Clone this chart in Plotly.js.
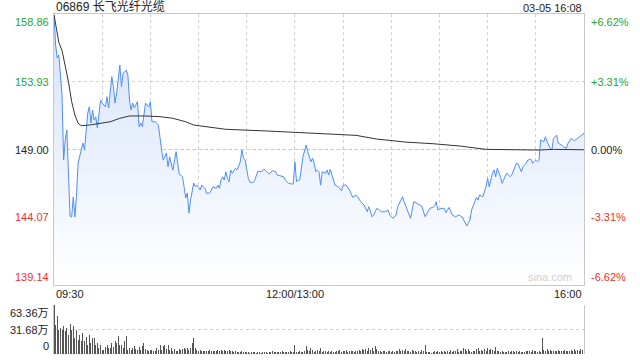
<!DOCTYPE html>
<html><head><meta charset="utf-8">
<script src="https://cdn.plot.ly/plotly-3.0.1.min.js"></script>
<style>html,body{margin:0;padding:0;background:#fff}#chart{width:640px;height:360px}</style>
</head><body><div id="chart"></div>
<script>
// ---- data ----
const titleText = '06869 长飞光纤光缆';
const stampText = '03-05 16:08';
const prevClose = 149.00;
const priceTicks = [158.86, 153.93, 149.00, 144.07, 139.14];
const pctLabels = ['+6.62%', '+3.31%', '0.00%', '-3.31%', '-6.62%'];
const timeLabels = ['09:30', '12:00/13:00', '16:00'];
const timeLabelMinutes = [0, 150, 330];
const gridMinutes = [0,30,60,90,120,150,180,210,240,270,300,330];
const volTicks = [0, 31.68, 63.36];
const volLabels = ['0', '31.68万', '63.36万'];

const priceMin = [0,1,2,3,4,5,6,7,8,9,10,11,12,13,14,15,17,18,19,20,21,22,23,24,25,26,27,29,30,32,33,34,36,37,38,39,41,42,43,45,46,47,48,49,50,52,53,54,55,57,59,60,61,63,65,67,68,70,71,72,74,76,77,78,79,80,81,82,83,84,85,86,87,88,89,90,91,92,94,95,97,98,99,101,102,103,104,105,106,107,108,109,110,111,112,113,114,115,116,117,118,119,120,121,122,124,125,126,127,129,131,133,134,136,138,139,141,143,144,146,148,149,150,151,152,153,155,157,158,159,160,161,162,163,164,165,166,167,169,170,171,172,174,175,177,179,180,182,184,186,188,189,191,193,195,196,198,199,201,204,206,208,209,211,213,214,216,217,218,220,222,224,226,228,229,231,233,234,236,237,238,239,241,243,244,246,248,250,252,254,256,257,259,260,262,263,264,265,267,269,270,271,273,274,275,276,278,279,281,282,284,285,287,288,289,291,292,294,295,297,298,300,301,302,303,305,306,307,309,310,311,313,314,316,317,319,320,322,324,326,328,330];
const priceVal = [158.80,156.60,155.66,155.88,154.42,152.96,148.23,149.69,150.42,147.2,144.16,144.09,145.54,144.09,145.6,148.02,148.96,149.47,148.96,150.66,151.65,152.11,150.93,151.87,151.14,151.38,150.56,152.60,152.38,152.11,152.84,152.02,154.30,153.57,152.38,153.11,155.15,153.57,154.54,154.78,154.42,152.60,151.87,152.38,152.02,152.48,150.66,150.93,150.66,152.38,152.11,152.48,151.02,151.02,150.78,148.96,148.23,148.74,147.74,148.47,147.50,148.84,148.02,147.2,147.14,147.02,146.29,145.47,145.83,144.37,145.32,146.05,146.56,146.29,146.41,146.25,146.05,146.41,146.17,145.81,145.85,146.05,146.29,146.17,146.41,146.17,146.78,147.02,146.78,147.38,146.90,146.66,147.51,147.27,147.51,147.63,147.51,147.87,148.11,148.96,148.36,148.23,147.38,146.90,146.61,146.61,146.78,147.14,147.43,147.38,147.56,147.31,147.22,147.46,147.38,147.14,147.07,147.02,146.78,146.54,146.49,146.5,148.11,146.66,146.78,146.78,148.47,149.33,148.84,148.47,148.11,148.36,147.99,147.38,147.51,147.38,146.41,147.38,147.27,147.51,147.14,147.56,146.78,146.41,146.29,146.00,146.41,146.41,146.05,145.52,145.69,145.56,145.20,144.96,144.47,144.84,144.11,144.23,144.72,144.47,144.47,144.60,144.23,143.99,144.23,144.84,145.32,145.56,145.20,144.60,143.99,145.20,145.08,145.01,144.89,144.11,144.60,144.72,144.80,144.89,145.20,144.60,144.72,144.72,144.40,144.79,144.23,144.11,144.23,144.11,143.67,143.43,143.87,144.60,145.20,145.52,145.32,145.69,145.56,146.29,146.90,146.29,147.27,147.51,147.02,147.63,147.02,146.54,147.07,147.27,147.02,147.14,147.75,148.00,147.95,147.38,147.75,148.00,148.23,148.29,148.00,148.23,148.11,148.23,149.69,149.57,149.93,149.57,149.09,148.96,149.81,150.05,149.45,149.33,149.20,149.09,149.45,149.81,149.64,149.81,149.98,150.18];

const avgMin = [0,3,5,7,9,11,13,15,17,22,28,35,41,47,57,66,74,82,87,95,107,132,153,174,188,201,219,236,253,269,286,302,311,330];
const avgVal = [158.8,156.8,156.2,155.15,153.93,152.48,151.51,150.91,150.73,150.78,150.91,151.02,151.27,151.44,151.44,151.39,151.27,151.02,150.78,150.66,150.47,150.35,150.25,150.15,150.03,149.76,149.54,149.42,149.25,149.01,148.96,148.96,149.01,148.98];

// volume per minute (万股), minute 0..330
const volume = [
63.4,37.9,48.6,31.4,33.6,31.4,35.7,29.2,33.6,25,
38.8,31.4,35.7,20.7,31.4,18.5,25,16.3,27.2,16.3,
21.5,12,25,14.2,20.7,20.7,12,14.2,7.8,12,
5.6,5.6,8.6,12,7.8,7.8,14.2,8.6,16.3,14.2,
22.8,12,12,7.8,16.3,22.8,5.6,7.8,5.6,7.8,
10,7,5.6,8.6,5.6,10,14.2,6.5,5.6,4.3,
5.6,5.6,4.3,4.3,7.8,5.6,11,5.6,10,12,
7,12,5.6,7.8,4.3,7,3.4,3.4,7,5.6,
7,7.8,7,7.8,5.6,7.8,14.2,20.7,7.8,5.6,
4.3,5.6,3.4,4.3,3.4,4.3,3.4,5.6,4.3,3.4,
4.3,3.4,5.6,4.3,5.6,4.3,5,4.3,3.4,5,
3.4,4.3,2.6,3.4,2.6,
3,2.6,3.4,2,2.6,3,2,1.7,2.6,2,3,1.7,2.6,2,1.5,2.6,3,2,1.7,2.6,2,3.4,2.6,2,3,2.6,2,3.4,2.6,3,2,2.6,3.4,2.6,3,11,
3,2.6,3.4,2.6,3,4.3,10,5.6,3.4,7.8,
5.6,3,3.4,5.6,4.3,7.8,2.6,3.4,4.3,2.6,
3.4,2.6,4.3,3,2.6,3.4,4.3,5.6,3,4.3,
3.4,5.6,3,3.4,4.3,4.3,3,3.4,4.3,5.6,
4.3,6.5,5,6.5,4.3,7.8,5.6,7.8,4.3,10.5,
6.5,4.3,3.4,3,4.3,3.4,2.6,3.4,4.3,3,
3.4,3,4.3,3.4,7,4.3,5.6,3.4,7,4.3,
4.3,3,5.6,3.4,3.4,3,4.3,3,5.6,3.4,
11,3,2.6,2,1.7,3,4.3,3,3.4,2.6,
4.3,3,4.3,3,3.4,2.6,5.6,3,4.3,3.4,
6.5,3,4.3,3.4,7.8,7,4.3,6.5,3.4,3,
4.3,3.4,7,7.8,4.3,5.6,3.4,6.5,4.3,7.8,
5,7,5.6,3.4,8.6,4.3,4.3,3,3.4,2.6,
2.6,2,4.3,3,3.4,3.4,2.6,4.3,3,3.4,
2.6,2.6,3,4.3,3.4,3.4,3,5.6,3.4,4.3,
3,3.4,2.6,20.5,5.6,3.4,6.5,4.3,5.6,3.4,
4.3,3.4,4.3,5.6,4.3,4.3,3.4,5.6,4.3,4.3,
3.4,5.6,4.3,6.5,4.3,5.6,4.3,7,5.6,25.2
];
const volMin = volume.map((v, i) => i);

// ---- styling ----
const GREEN = '#2aa52a', RED = '#e8352b', BLACK = '#222';
const FONT = 'Liberation Sans, Arial, Noto Sans CJK SC, sans-serif';
function clr(v, ref) { return Math.abs(v - ref) < 1e-6 ? BLACK : (v > ref ? GREEN : RED); }

const traces = [
  {
    x: priceMin, y: priceVal, type: 'scatter', mode: 'lines',
    line: {color: '#4f8ef5', width: 1},
    fill: 'tozeroy',
    fillgradient: {type: 'vertical', start: priceTicks[4], stop: priceTicks[0],
      colorscale: [[0, 'rgba(255,255,255,1)'], [1, 'rgba(212,226,250,1)']]},
    xaxis: 'x', yaxis: 'y', hoverinfo: 'skip'
  },
  {
    x: avgMin, y: avgVal, type: 'scatter', mode: 'lines',
    line: {color: '#333', width: 1}, xaxis: 'x', yaxis: 'y', hoverinfo: 'skip'
  },
  {
    x: volMin, y: volume, type: 'bar', width: 0.62,
    marker: {color: '#555', line: {width: 0}}, xaxis: 'x2', yaxis: 'y2', hoverinfo: 'skip'
  }
];

const annotations = [];
priceTicks.forEach((v, i) => {
  const ya = i === 0 ? 'top' : (i === priceTicks.length - 1 ? 'bottom' : 'middle');
  annotations.push({xref: 'paper', x: 0, xanchor: 'right', xshift: -3, yref: 'y', y: v, yanchor: ya,
    text: v.toFixed(2), showarrow: false, font: {family: FONT, size: 11, color: clr(v, prevClose)}});
  annotations.push({xref: 'paper', x: 1, xanchor: 'left', xshift: 5, yref: 'y', y: v, yanchor: ya,
    text: pctLabels[i], showarrow: false, font: {family: FONT, size: 11, color: clr(v, prevClose)}});
});
timeLabels.forEach((t, i) => {
  const xa = i === 0 ? 'left' : (i === timeLabels.length - 1 ? 'right' : 'center');
  annotations.push({xref: 'x', x: timeLabelMinutes[i], xanchor: xa, yref: 'paper', y: 0.2029, yanchor: 'top', yshift: -1,
    text: t, showarrow: false, font: {family: FONT, size: 11, color: BLACK}});
});
volTicks.forEach((v, i) => {
  const ya = i === 0 ? 'bottom' : (i === volTicks.length - 1 ? 'top' : 'middle');
  annotations.push({xref: 'paper', x: 0, xanchor: 'right', xshift: -3, yref: 'y2', y: v, yanchor: ya,
    text: volLabels[i], showarrow: false, font: {family: FONT, size: 11, color: BLACK}});
});
annotations.push({xref: 'paper', x: 0, xanchor: 'left', yref: 'paper', y: 1, yanchor: 'bottom', yshift: -2,
  text: titleText, showarrow: false, font: {family: FONT, size: 12, color: BLACK}});
annotations.push({xref: 'paper', x: 1, xanchor: 'right', yref: 'paper', y: 1, yanchor: 'bottom', yshift: -2,
  text: stampText, showarrow: false, font: {family: FONT, size: 11, color: BLACK}});
annotations.push({xref: 'paper', x: 1, xanchor: 'right', xshift: -10, yref: 'paper', y: 0.2029, yanchor: 'bottom', yshift: 0,
  text: 'sina.com', showarrow: false, font: {family: FONT, size: 11, color: '#cfcfcf'}});

const layout = {
  width: 640, height: 360,
  margin: {l: 54, r: 56, t: 14, b: 6, pad: 0},
  paper_bgcolor: '#fff', plot_bgcolor: '#fff', showlegend: false,
  font: {family: FONT, size: 11, color: BLACK},
  xaxis: {domain: [0, 1], range: [0, 330], anchor: 'y', tickvals: gridMinutes, showticklabels: false, ticks: '',
    showgrid: true, gridcolor: '#d2d2d2', griddash: 'dot', gridwidth: 1,
    showline: true, mirror: true, linecolor: '#c8c8c8', linewidth: 1, zeroline: false, fixedrange: true},
  yaxis: {domain: [0.2029, 1], range: [priceTicks[4], priceTicks[0]], anchor: 'x', tickvals: priceTicks,
    showticklabels: false, ticks: '', showgrid: true, gridcolor: '#d2d2d2', griddash: 'dot',
    showline: true, mirror: true, linecolor: '#c8c8c8', linewidth: 1, zeroline: false, fixedrange: true},
  xaxis2: {domain: [0, 1], range: [0, 330], anchor: 'y2', showticklabels: false, ticks: '', showgrid: false,
    showline: false, zeroline: false, fixedrange: true},
  yaxis2: {domain: [0, 0.1441], range: [0, volTicks[2]], anchor: 'x2', tickvals: volTicks, showticklabels: false, ticks: '',
    showgrid: true, gridcolor: '#cfcfcf', griddash: 'dot', showline: true, mirror: true, linecolor: '#c8c8c8',
    zeroline: false, fixedrange: true},
  shapes: [{type: 'line', xref: 'x', x0: 0, x1: 330, yref: 'y', y0: prevClose, y1: prevClose,
    line: {color: '#b4b4b4', width: 1, dash: '4px,2px'}, layer: 'below'}],
  annotations: annotations,
  bargap: 0
};

Plotly.newPlot('chart', traces, layout, {staticPlot: true, displayModeBar: false});
</script>
</body></html>
